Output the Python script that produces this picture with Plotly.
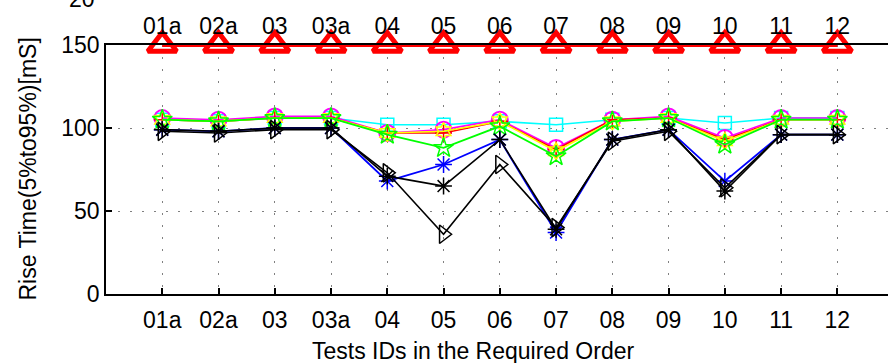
import plotly.graph_objects as go

# Test IDs, in the required order
test_ids = ["01a", "02a", "03", "03a", "04", "05", "06", "07", "08", "09", "10", "11", "12"]
x_pos = list(range(1, len(test_ids) + 1))

# Rise time (5% to 95%) in mS for each measurement series
limit_ms = [150] * 13
series_magenta = [106, 105, 107, 107, 97, 99, 105, 88, 105, 107, 94, 106, 106]
series_cyan = [105, 104, 106, 106, 102, 102, 104, 102, 105, 106, 103, 106, 106]
series_red = [105, 104, 106, 106, 97, 97, 104, 87, 105, 106, 93, 105, 105]
series_yellow = [105, 104, 106, 106, 97, 98, 104, 86, 104, 106, 92, 105, 105]
series_green = [105, 104, 106, 106, 96, 88, 101, 83, 104, 106, 90, 105, 105]
series_blue = [99, 98, 100, 100, 68, 78, 93, 37, 93, 99, 68, 96, 96]
series_black_star = [99, 98, 100, 100, 71, 65, 93, 39, 93, 99, 62, 96, 96]
series_black_tri = [98, 97, 99, 99, 73, 36, 78, 40, 92, 98, 64, 96, 96]

y_ticks = [0, 50, 100, 150]

FONT = "Liberation Sans, Arial, Helvetica, sans-serif"

fig = go.Figure()


def add_series(values, color, symbol, size=13, lw=1.6, mlw=1.5):
    fig.add_trace(go.Scatter(
        x=x_pos, y=values, mode="lines+markers",
        line=dict(color=color, width=lw),
        marker=dict(symbol=symbol, size=size, color=color,
                    line=dict(color=color, width=mlw)),
        showlegend=False, cliponaxis=False,
    ))


add_series(series_cyan, "#00ffff", "square-open", size=13)
add_series(series_magenta, "#ff00ff", "circle-open", size=16, mlw=2)
add_series(series_red, "#ff0000", "cross-thin-open", size=12)
add_series(series_yellow, "#ffff00", "hexagram-open", size=13)
add_series(series_green, "#00ff00", "star-open", size=15, lw=1.8)
add_series(series_blue, "#0000ff", "asterisk-open", size=14, lw=1.8)
add_series(series_black_star, "#000000", "asterisk-open", size=14, lw=1.6)
add_series(series_black_tri, "#000000", "triangle-right-open", size=16, lw=1.6)
add_series(limit_ms, "#ff0000", "triangle-up-open", size=25, lw=4, mlw=5)

# invisible trace to activate the top axis
fig.add_trace(go.Scatter(x=x_pos, y=limit_ms, xaxis="x2", mode="markers",
                         marker=dict(opacity=0), showlegend=False, hoverinfo="skip"))

x_range = [0, 13.9]
grid = dict(showgrid=True, gridcolor="#808080", gridwidth=1, griddash="2px,10px")

fig.update_layout(
    width=888, height=363,
    margin=dict(l=106, r=0, t=45, b=69),
    paper_bgcolor="white", plot_bgcolor="white",
    font=dict(family=FONT, size=23, color="black"),
    xaxis=dict(
        range=x_range, tickmode="array", tickvals=x_pos, ticktext=test_ids,
        ticks="inside", ticklen=6, tickwidth=1.5, tickcolor="black",
        showline=True, linecolor="black", linewidth=1.8,
        zeroline=False, **grid, ticklabelstandoff=4,
        tickfont=dict(size=23),
    ),
    xaxis2=dict(
        range=x_range, overlaying="x", side="top", tickmode="array",
        tickvals=x_pos, ticktext=test_ids, ticks="", showline=True,
        linecolor="black", linewidth=1.8, showgrid=False, zeroline=False,
        tickfont=dict(size=23),
    ),
    yaxis=dict(
        range=[0, 150], tickmode="array", tickvals=y_ticks,
        ticks="inside", ticklen=6, tickwidth=1.5, tickcolor="black",
        showline=True, linecolor="black", linewidth=1.8,
        zeroline=False, **grid,
        tickfont=dict(size=23),
    ),
)

fig.add_annotation(
    text="Rise Time(5%to95%)[mS]", textangle=-90, showarrow=False,
    xref="paper", yref="paper", x=(27 - 106) / 782, y=0.5,
    xanchor="center", yanchor="middle", font=dict(size=23),
)
fig.add_annotation(
    text="Tests IDs in the Required Order", showarrow=False,
    xref="paper", yref="paper", x=(473 - 106) / 782, y=-(336 - 294) / 249,
    xanchor="center", yanchor="top", font=dict(size=23),
)
fig.add_annotation(
    text="20", showarrow=False, xref="paper", yref="paper",
    x=-0.012, y=1 + 31 / 249, xanchor="right", yanchor="bottom",
    font=dict(size=23),
)

fig.write_html("out.html")
